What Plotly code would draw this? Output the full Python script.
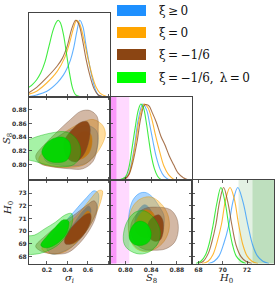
import plotly.graph_objects as go

# ---------------- data ----------------
SERIES = ["blue", "orange", "brown", "green"]
LABELS = ["ξ\u2009≥\u20090", "ξ\u2009=\u20090", "ξ\u2009=\u2009−1/6", "ξ\u2009=\u2009−1/6,\u2009 λ\u2009=\u20090"]

SIG_TICKS = [0.2, 0.4, 0.6, 0.8]
SIG_TICKTEXT = ["0.2", "0.4", "0.6", ""]
S8_TICKS_X = [0.80, 0.84, 0.88]
S8_TICKS_Y = [0.80, 0.82, 0.84, 0.86, 0.88]
H0_TICKS_X = [68, 70, 72]
H0_TICKS_Y = [68, 69, 70, 71, 72, 73]

# 1D marginal of sigma_i (x, relative density)
sig_blue_x = [0.023, 0.10, 0.20, 0.30, 0.36, 0.40, 0.43, 0.46, 0.49, 0.52, 0.55, 0.58, 0.61, 0.64, 0.67, 0.70, 0.74]
sig_blue_y = [0.0, 0.02, 0.07, 0.18, 0.28, 0.38, 0.48, 0.63, 0.84, 1.0, 0.92, 0.68, 0.45, 0.25, 0.10, 0.02, 0.0]
sig_orange_x = [0.023, 0.10, 0.20, 0.30, 0.37, 0.42, 0.46, 0.49, 0.52, 0.56, 0.60, 0.64, 0.68, 0.72, 0.78]
sig_orange_y = [0.03, 0.07, 0.18, 0.33, 0.50, 0.70, 0.90, 1.0, 0.95, 0.75, 0.50, 0.28, 0.12, 0.04, 0.0]
sig_brown_x = [0.023, 0.10, 0.20, 0.30, 0.35, 0.40, 0.44, 0.48, 0.51, 0.55, 0.58, 0.62, 0.66, 0.70, 0.74]
sig_brown_y = [0.05, 0.12, 0.25, 0.40, 0.50, 0.67, 0.88, 1.0, 0.95, 0.72, 0.50, 0.27, 0.10, 0.02, 0.0]
sig_green_x = [0.023, 0.06, 0.10, 0.14, 0.18, 0.22, 0.26, 0.29, 0.31, 0.33, 0.36, 0.39, 0.42, 0.45, 0.48, 0.52]
sig_green_y = [0.12, 0.16, 0.22, 0.31, 0.45, 0.66, 0.87, 0.97, 1.0, 0.97, 0.82, 0.57, 0.31, 0.11, 0.02, 0.0]

# 1D marginal of S8
s8_blue_x = [0.795, 0.80, 0.805, 0.81, 0.815, 0.82, 0.827, 0.833, 0.838, 0.843, 0.848, 0.854, 0.86, 0.868]
s8_blue_y = [0.0, 0.02, 0.08, 0.25, 0.50, 0.80, 1.0, 0.92, 0.72, 0.50, 0.30, 0.14, 0.05, 0.0]
s8_orange_x = [0.795, 0.80, 0.805, 0.81, 0.816, 0.822, 0.829, 0.835, 0.841, 0.847, 0.853, 0.86, 0.867, 0.876]
s8_orange_y = [0.0, 0.02, 0.07, 0.22, 0.50, 0.82, 1.0, 0.95, 0.80, 0.58, 0.38, 0.18, 0.07, 0.0]
s8_brown_x = [0.795, 0.80, 0.806, 0.812, 0.818, 0.824, 0.830, 0.836, 0.842, 0.848, 0.855, 0.862, 0.868, 0.875, 0.882, 0.89, 0.898]
s8_brown_y = [0.0, 0.02, 0.08, 0.25, 0.50, 0.82, 0.99, 0.98, 0.88, 0.76, 0.58, 0.45, 0.32, 0.20, 0.09, 0.03, 0.0]
s8_green_x = [0.79, 0.80, 0.805, 0.81, 0.815, 0.82, 0.824, 0.828, 0.832, 0.836, 0.84, 0.845, 0.85, 0.856]
s8_green_y = [0.0, 0.04, 0.15, 0.40, 0.68, 0.92, 1.0, 0.95, 0.78, 0.55, 0.33, 0.15, 0.05, 0.0]

# 1D marginal of H0
h0_blue_x = [68.8, 69.3, 69.7, 70.1, 70.49, 70.85, 71.24, 71.65, 72.08, 72.45, 72.85, 73.3, 73.8]
h0_blue_y = [0.0, 0.03, 0.10, 0.27, 0.50, 0.82, 1.0, 0.82, 0.50, 0.25, 0.10, 0.03, 0.0]
h0_orange_x = [68.3, 68.8, 69.2, 69.6, 69.9, 70.25, 70.6, 70.95, 71.3, 71.65, 72.0, 72.4, 72.9]
h0_orange_y = [0.0, 0.03, 0.12, 0.32, 0.52, 0.85, 1.0, 0.85, 0.52, 0.25, 0.10, 0.03, 0.0]
h0_brown_x = [68.0, 68.4, 68.8, 69.1, 69.42, 69.75, 70.07, 70.4, 70.76, 71.1, 71.5, 71.9, 72.4]
h0_brown_y = [0.0, 0.03, 0.13, 0.28, 0.50, 0.82, 1.0, 0.82, 0.50, 0.24, 0.09, 0.03, 0.0]
h0_green_x = [67.8, 68.2, 68.6, 68.9, 69.2, 69.5, 69.85, 70.2, 70.5, 70.8, 71.1, 71.5, 71.9]
h0_green_y = [0.0, 0.03, 0.12, 0.27, 0.50, 0.78, 1.0, 0.80, 0.50, 0.25, 0.10, 0.03, 0.0]

# 2D contours (95% outer, 68% inner), vertices
sig_s8_blue_95 = [(0.17, 0.812), (0.25, 0.833), (0.35, 0.845), (0.48, 0.853), (0.60, 0.857), (0.68, 0.850), (0.70, 0.835), (0.67, 0.815), (0.58, 0.802), (0.45, 0.798), (0.30, 0.800), (0.20, 0.804)]
sig_s8_blue_68 = [(0.40, 0.823), (0.46, 0.835), (0.54, 0.843), (0.61, 0.842), (0.63, 0.832), (0.60, 0.818), (0.53, 0.810), (0.45, 0.810)]
sig_s8_orange_95 = [(0.12, 0.808), (0.25, 0.832), (0.40, 0.850), (0.55, 0.862), (0.65, 0.866), (0.74, 0.858), (0.77, 0.845), (0.74, 0.830), (0.66, 0.812), (0.55, 0.799), (0.40, 0.796), (0.25, 0.797), (0.15, 0.801)]
sig_s8_orange_68 = [(0.38, 0.822), (0.46, 0.838), (0.55, 0.848), (0.62, 0.846), (0.64, 0.834), (0.61, 0.817), (0.53, 0.808), (0.44, 0.809)]
sig_s8_brown_95 = [(0.09, 0.812), (0.18, 0.830), (0.30, 0.848), (0.43, 0.866), (0.53, 0.878), (0.62, 0.879), (0.69, 0.870), (0.70, 0.850), (0.69, 0.825), (0.65, 0.805), (0.55, 0.794), (0.42, 0.794), (0.25, 0.797), (0.13, 0.802)]
sig_s8_brown_68 = [(0.37, 0.835), (0.45, 0.852), (0.53, 0.862), (0.59, 0.863), (0.62, 0.855), (0.61, 0.835), (0.56, 0.815), (0.48, 0.804), (0.41, 0.808), (0.37, 0.820)]
sig_s8_green_95 = [(-0.05, 0.812), (-0.05, 0.830), (0.05, 0.838), (0.15, 0.843), (0.27, 0.847), (0.38, 0.848), (0.46, 0.842), (0.52, 0.828), (0.52, 0.811), (0.46, 0.800), (0.35, 0.797), (0.22, 0.799), (0.10, 0.804)]
sig_s8_green_68 = [(0.15, 0.818), (0.20, 0.832), (0.28, 0.839), (0.36, 0.840), (0.42, 0.833), (0.43, 0.818), (0.39, 0.806), (0.30, 0.803), (0.21, 0.806)]

sig_h0_blue_95 = [(0.20, 68.6), (0.25, 69.6), (0.35, 70.5), (0.47, 71.6), (0.58, 72.6), (0.66, 73.2), (0.70, 73.0), (0.70, 72.2), (0.66, 71.1), (0.58, 70.0), (0.48, 69.0), (0.36, 68.4), (0.25, 68.2)]
sig_h0_blue_68 = [(0.40, 69.8), (0.47, 70.7), (0.55, 71.6), (0.61, 72.0), (0.63, 71.6), (0.60, 70.8), (0.53, 69.9), (0.45, 69.4)]
sig_h0_orange_95 = [(0.15, 68.6), (0.25, 69.5), (0.38, 70.4), (0.50, 71.3), (0.62, 72.5), (0.70, 73.2), (0.74, 73.2), (0.73, 72.5), (0.68, 71.4), (0.60, 70.2), (0.50, 69.2), (0.38, 68.4), (0.25, 68.2)]
sig_h0_orange_68 = [(0.38, 69.4), (0.45, 70.2), (0.53, 71.0), (0.60, 71.6), (0.63, 71.3), (0.61, 70.5), (0.54, 69.6), (0.45, 69.0)]
sig_h0_brown_95 = [(0.09, 68.8), (0.18, 69.6), (0.30, 70.4), (0.45, 71.2), (0.58, 72.0), (0.66, 72.4), (0.69, 72.0), (0.67, 71.0), (0.60, 69.9), (0.50, 68.9), (0.40, 68.3), (0.28, 68.2), (0.15, 68.4)]
sig_h0_brown_68 = [(0.37, 69.3), (0.42, 70.1), (0.50, 70.8), (0.57, 71.3), (0.62, 71.4), (0.63, 70.9), (0.59, 70.1), (0.52, 69.4), (0.44, 69.0), (0.38, 69.0)]
sig_h0_green_95 = [(-0.05, 68.3), (-0.05, 69.5), (0.08, 69.7), (0.18, 70.2), (0.28, 70.7), (0.38, 71.3), (0.44, 71.4), (0.45, 70.8), (0.40, 69.8), (0.32, 69.0), (0.22, 68.5), (0.10, 68.2)]
sig_h0_green_68 = [(0.14, 68.9), (0.20, 69.6), (0.28, 70.3), (0.36, 70.9), (0.41, 70.8), (0.40, 70.0), (0.34, 69.3), (0.25, 68.8), (0.18, 68.7)]

s8_h0_blue_95 = [(0.806, 71.5), (0.812, 72.5), (0.822, 73.0), (0.832, 73.05), (0.842, 72.7), (0.852, 72.0), (0.860, 71.2), (0.858, 70.0), (0.850, 69.0), (0.838, 68.5), (0.825, 68.5), (0.812, 69.0), (0.805, 70.2)]
s8_h0_blue_68 = [(0.815, 71.0), (0.822, 71.8), (0.830, 72.1), (0.838, 71.8), (0.843, 71.0), (0.841, 70.1), (0.834, 69.6), (0.824, 69.6), (0.816, 70.1)]
s8_h0_orange_95 = [(0.805, 70.8), (0.812, 72.0), (0.825, 72.6), (0.840, 72.7), (0.855, 72.2), (0.866, 71.3), (0.868, 70.2), (0.860, 69.2), (0.846, 68.6), (0.830, 68.4), (0.815, 68.7), (0.806, 69.6)]
s8_h0_orange_68 = [(0.815, 70.5), (0.822, 71.3), (0.832, 71.7), (0.842, 71.5), (0.848, 70.7), (0.845, 69.9), (0.835, 69.5), (0.823, 69.6), (0.816, 70.0)]
s8_h0_brown_95 = [(0.808, 70.3), (0.815, 71.2), (0.830, 71.8), (0.850, 71.9), (0.870, 71.7), (0.880, 71.0), (0.882, 70.0), (0.876, 69.1), (0.862, 68.6), (0.845, 68.5), (0.828, 68.6), (0.815, 69.1)]
s8_h0_brown_68 = [(0.835, 70.6), (0.842, 71.1), (0.852, 71.3), (0.858, 70.9), (0.859, 70.0), (0.854, 69.3), (0.845, 69.2), (0.837, 69.5), (0.834, 70.0)]
s8_h0_green_95 = [(0.797, 69.8), (0.803, 70.8), (0.815, 71.5), (0.830, 71.6), (0.845, 71.0), (0.854, 70.0), (0.850, 69.0), (0.838, 68.4), (0.822, 68.2), (0.806, 68.5), (0.798, 69.0)]
s8_h0_green_68 = [(0.806, 69.8), (0.812, 70.5), (0.822, 70.8), (0.833, 70.6), (0.840, 69.9), (0.837, 69.2), (0.827, 68.9), (0.814, 68.95), (0.807, 69.3)]

# external priors (bands)
S8_BAND_1SIG = [0.70, 0.786]
S8_BAND_2SIG = [0.70, 0.806]
H0_BAND_1SIG = [72.45, 76.0]
H0_BAND_2SIG = [71.3, 76.0]

# ---------------- styles ----------------
SIG_RANGE = [0.025, 0.815]
S8_RANGE_X = [0.776, 0.9035]
S8_RANGE_Y = [0.7776, 0.8995]
H0_RANGE_X = [67.47, 74.22]
H0_RANGE_Y = [67.45, 74.05]
DENS_MAX = 1.099

RGB = {"blue": (30, 144, 255), "orange": (255, 165, 0), "brown": (139, 69, 19), "green": (0, 255, 0)}
INNER = {"blue": "rgba(30,144,255,0.85)", "orange": "rgba(235,150,10,0.9)",
         "brown": "rgba(139,69,19,0.95)", "green": "rgba(0,215,0,0.95)"}
OUTER = {"blue": "rgba(30,144,255,0.38)", "orange": "rgba(255,165,0,0.38)",
         "brown": "rgba(139,69,19,0.38)", "green": "rgba(20,220,20,0.38)"}
LINE1D = {"blue": "rgba(30,144,255,0.7)", "orange": "rgba(255,165,0,0.8)",
          "brown": "rgba(139,69,19,0.75)", "green": "rgba(0,230,0,0.75)"}
EDGE = {"blue": "rgba(30,144,255,0.6)", "orange": "rgba(230,150,0,0.5)",
        "brown": "rgba(120,90,70,0.5)", "green": "rgba(0,180,0,0.5)"}

W, H = 279, 288
COLS = [(29, 110), (110, 192), (192, 274)]
ROWS = [(12.7, 96.5), (96.5, 180), (180, 263.5)]


def xdom(c):
    return [COLS[c][0] / W, COLS[c][1] / W]


def ydom(r):
    return [1 - ROWS[r][1] / H, 1 - ROWS[r][0] / H]


fig = go.Figure()

# panel id -> (row, col)
PANELS = {1: (0, 0), 2: (1, 0), 3: (1, 1), 4: (2, 0), 5: (2, 1), 6: (2, 2)}


def ax(p):
    return ("x" if p == 1 else f"x{p}"), ("y" if p == 1 else f"y{p}")


def add_curve(p, xs, ys, s):
    xa, ya = ax(p)
    fig.add_trace(go.Scatter(x=xs, y=ys, xaxis=xa, yaxis=ya, mode="lines",
                             line=dict(color=LINE1D[s], width=1.1, shape="spline", smoothing=1),
                             hoverinfo="skip", showlegend=False))


def add_poly(p, pts, fillc, edgec):
    xa, ya = ax(p)
    xs = [q[0] for q in pts] + [pts[0][0]]
    ys = [q[1] for q in pts] + [pts[0][1]]
    fig.add_trace(go.Scatter(x=xs, y=ys, xaxis=xa, yaxis=ya, mode="lines", fill="toself",
                             fillcolor=fillc, line=dict(color=edgec, width=0.8, shape="spline", smoothing=1),
                             hoverinfo="skip", showlegend=False))


# 1D curves
sig1d = {"blue": (sig_blue_x, sig_blue_y), "orange": (sig_orange_x, sig_orange_y),
         "brown": (sig_brown_x, sig_brown_y), "green": (sig_green_x, sig_green_y)}
s81d = {"blue": (s8_blue_x, s8_blue_y), "orange": (s8_orange_x, s8_orange_y),
        "brown": (s8_brown_x, s8_brown_y), "green": (s8_green_x, s8_green_y)}
h01d = {"blue": (h0_blue_x, h0_blue_y), "orange": (h0_orange_x, h0_orange_y),
        "brown": (h0_brown_x, h0_brown_y), "green": (h0_green_x, h0_green_y)}
for s in SERIES:
    add_curve(1, *sig1d[s], s)
    add_curve(3, *s81d[s], s)
    add_curve(6, *h01d[s], s)

# 2D contours
sig_s8 = {"blue": (sig_s8_blue_95, sig_s8_blue_68), "orange": (sig_s8_orange_95, sig_s8_orange_68),
          "brown": (sig_s8_brown_95, sig_s8_brown_68), "green": (sig_s8_green_95, sig_s8_green_68)}
sig_h0 = {"blue": (sig_h0_blue_95, sig_h0_blue_68), "orange": (sig_h0_orange_95, sig_h0_orange_68),
          "brown": (sig_h0_brown_95, sig_h0_brown_68), "green": (sig_h0_green_95, sig_h0_green_68)}
s8_h0 = {"blue": (s8_h0_blue_95, s8_h0_blue_68), "orange": (s8_h0_orange_95, s8_h0_orange_68),
         "brown": (s8_h0_brown_95, s8_h0_brown_68), "green": (s8_h0_green_95, s8_h0_green_68)}
for p, d in [(2, sig_s8), (4, sig_h0), (5, s8_h0)]:
    for s in SERIES:
        outer, inner = d[s]
        add_poly(p, outer, OUTER[s], EDGE[s])
        add_poly(p, inner, INNER[s], EDGE[s])

# ---------------- axes ----------------
TICKFONT = dict(family="DejaVu Sans", size=6, color="#333", weight="bold")
base = dict(showgrid=False, zeroline=False, showline=True, linecolor="#444", linewidth=1,
            ticks="inside", ticklen=3, tickwidth=0.8, tickcolor="#333", tickfont=TICKFONT)


def dens_ticks(vals, rng):
    return [(v - rng[0]) / (rng[1] - rng[0]) * DENS_MAX for v in vals]


layout_axes = {}
specs = {
    1: dict(x=dict(range=SIG_RANGE, tickvals=SIG_TICKS, showticklabels=False, mirror=True),
            y=dict(range=[0, DENS_MAX], tickvals=[], showticklabels=False, mirror=True)),
    2: dict(x=dict(range=SIG_RANGE, tickvals=SIG_TICKS, showticklabels=False, mirror="ticks"),
            y=dict(range=S8_RANGE_Y, tickvals=S8_TICKS_Y, ticktext=[f"{v:.2f}" for v in S8_TICKS_Y], mirror="ticks")),
    3: dict(x=dict(range=S8_RANGE_X, tickvals=S8_TICKS_X, showticklabels=False, mirror=True),
            y=dict(range=[0, DENS_MAX], tickvals=dens_ticks(S8_TICKS_Y, S8_RANGE_Y), showticklabels=False, mirror=True)),
    4: dict(x=dict(range=SIG_RANGE, tickvals=SIG_TICKS, ticktext=SIG_TICKTEXT, mirror="ticks"),
            y=dict(range=H0_RANGE_Y, tickvals=H0_TICKS_Y, ticktext=[str(v) for v in H0_TICKS_Y], mirror="ticks")),
    5: dict(x=dict(range=S8_RANGE_X, tickvals=S8_TICKS_X, ticktext=[f"{v:.2f}" for v in S8_TICKS_X], mirror="ticks"),
            y=dict(range=H0_RANGE_Y, tickvals=H0_TICKS_Y, showticklabels=False, mirror="ticks")),
    6: dict(x=dict(range=H0_RANGE_X, tickvals=H0_TICKS_X, ticktext=[str(v) for v in H0_TICKS_X], mirror="ticks"),
            y=dict(range=[0, DENS_MAX], tickvals=dens_ticks(H0_TICKS_Y, H0_RANGE_Y), showticklabels=False, mirror=True)),
}
for p, (r, c) in PANELS.items():
    xa, ya = ax(p)
    xk = "xaxis" if p == 1 else f"xaxis{p}"
    yk = "yaxis" if p == 1 else f"yaxis{p}"
    layout_axes[xk] = dict(base, domain=xdom(c), anchor=ya, **specs[p]["x"])
    layout_axes[yk] = dict(base, domain=ydom(r), anchor=xa, **specs[p]["y"])

fig.update_layout(**layout_axes)

# ---------------- prior bands ----------------
shapes = []
for p in (3, 5):
    xa, ya = ax(p)
    for band, col in [(S8_BAND_2SIG, "rgba(255,0,255,0.15)"), (S8_BAND_1SIG, "rgba(240,0,240,0.3)")]:
        shapes.append(dict(type="rect", xref=xa, yref=f"{ya} domain", x0=band[0], x1=band[1], y0=0, y1=1,
                           fillcolor=col, line=dict(width=0), layer="below"))
for band, col in [(H0_BAND_2SIG, "rgba(0,128,0,0.11)"), (H0_BAND_1SIG, "rgba(0,128,0,0.16)")]:
    shapes.append(dict(type="rect", xref="x6", yref="y6 domain", x0=band[0], x1=band[1], y0=0, y1=1,
                       fillcolor=col, line=dict(width=0), layer="below"))

# ---------------- legend ----------------
annotations = []
LEG_Y = [10.5, 32.5, 54.5, 77.5]
for s, lab, yc in zip(SERIES, LABELS, LEG_Y):
    r, g, b = RGB[s]
    shapes.append(dict(type="rect", xref="paper", yref="paper", x0=117 / W, x1=146 / W,
                       y0=1 - (yc + 5.5) / H, y1=1 - (yc - 5.5) / H,
                       fillcolor=f"rgb({r},{g},{b})", line=dict(width=0)))
    annotations.append(dict(text=lab, xref="paper", yref="paper", x=157 / W, y=1 - yc / H,
                            xanchor="left", yanchor="middle", showarrow=False,
                            font=dict(family="DejaVu Serif", size=12, color="#111")))

# axis titles
TFONT = dict(family="DejaVu Serif", size=10, color="#222")
annotations += [
    dict(text="<i>σ</i><sub><i>i</i></sub>", x=69 / W, y=1 - 278 / H, xref="paper", yref="paper",
         showarrow=False, font=TFONT, xanchor="center", yanchor="middle"),
    dict(text="<i>S</i><sub>8</sub>", x=151 / W, y=1 - 278 / H, xref="paper", yref="paper",
         showarrow=False, font=TFONT, xanchor="center", yanchor="middle"),
    dict(text="<i>H</i><sub>0</sub>", x=226 / W, y=1 - 278 / H, xref="paper", yref="paper",
         showarrow=False, font=TFONT, xanchor="center", yanchor="middle"),
    dict(text="<i>S</i><sub>8</sub>", x=7 / W, y=1 - 139 / H, xref="paper", yref="paper",
         showarrow=False, font=TFONT, textangle=-90, xanchor="center", yanchor="middle"),
    dict(text="<i>H</i><sub>0</sub>", x=8 / W, y=1 - 208 / H, xref="paper", yref="paper",
         showarrow=False, font=TFONT, textangle=-90, xanchor="center", yanchor="middle"),
]

fig.update_layout(width=W, height=H, margin=dict(l=0, r=0, t=0, b=0),
                  paper_bgcolor="white", plot_bgcolor="white", showlegend=False,
                  shapes=shapes, annotations=annotations)

fig.write_html("out.html", config={"displayModeBar": False, "staticPlot": True},
               post_script="document.body.style.margin='0';document.body.style.overflow='hidden';")
